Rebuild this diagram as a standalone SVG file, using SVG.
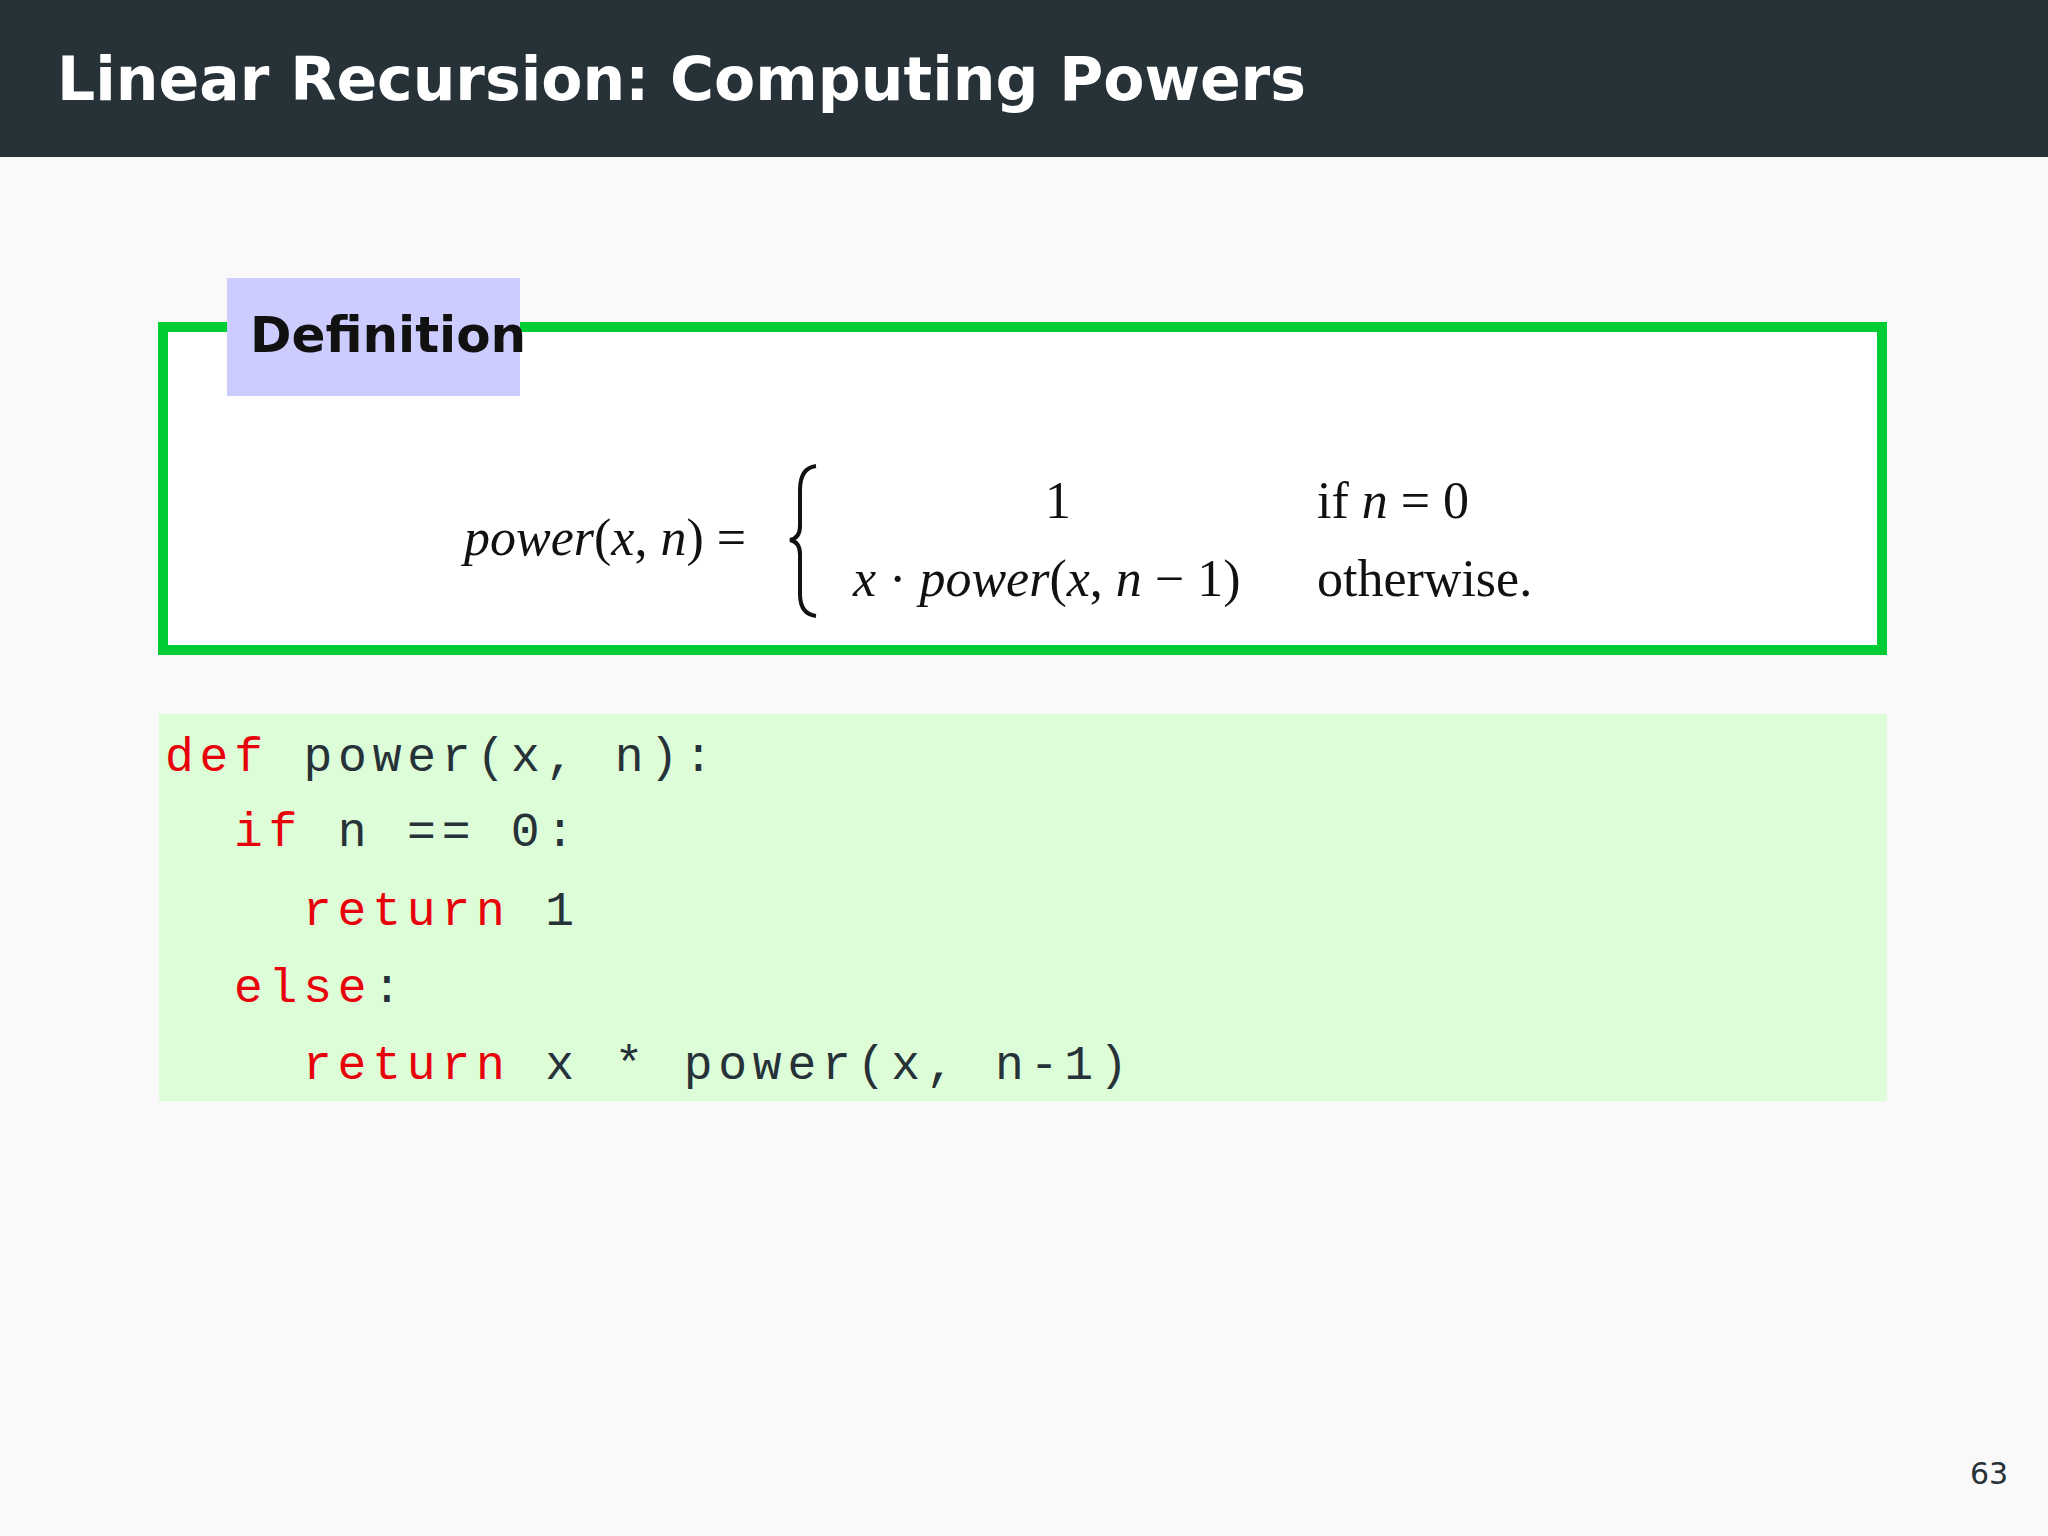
<svg xmlns="http://www.w3.org/2000/svg" width="2048" height="1536" viewBox="0 0 2048 1536">
<style>
.s{font-family:"DejaVu Sans","Liberation Sans",sans-serif}
.m{font-family:"Liberation Serif",serif;font-size:52px;fill:#111}
.i{font-style:italic}
.c{font-family:"Liberation Mono",monospace;font-size:48px;letter-spacing:5.8px;fill:#263238;white-space:pre}
.k{fill:#e8000b}
</style>
<rect width="2048" height="1536" fill="#f9f9f9"/>
<g id="header"><rect width="2048" height="157" fill="#263238"/>
<text x="57" y="100" class="s" font-size="60" font-weight="bold" fill="#fff">Linear Recursion: Computing Powers</text></g>
<g id="definition">
<rect x="163" y="327" width="1719" height="323" fill="#fff" stroke="#00cc33" stroke-width="10"/>
<rect x="227" y="278" width="293" height="118" fill="#ccccff"/>
<text x="250" y="352" class="s" font-size="50" font-weight="bold" fill="#111">Definition</text>
<text x="464" y="555" class="m"><tspan class="i">power</tspan>(<tspan class="i">x</tspan>, <tspan class="i">n</tspan>) =</text>
<path d="M816 466 Q800 468 800 490 L800 526 Q800 538 790 540 Q800 542 800 554 L800 594 Q800 614 816 616" fill="none" stroke="#111" stroke-width="4"/>
<text x="1045" y="518" class="m">1</text>
<text x="1317" y="518" class="m">if   <tspan class="i">n</tspan> = 0</text>
<text x="853" y="596" class="m"><tspan class="i">x</tspan> · <tspan class="i">power</tspan>(<tspan class="i">x</tspan>, <tspan class="i">n</tspan> − 1)</text>
<text x="1317" y="596" class="m">otherwise.</text>
</g>
<g id="code">
<rect x="159" y="714" width="1728" height="387" fill="#dcfdd8"/>
<text x="165" y="771" class="c"><tspan class="k">def</tspan> power(x, n):</text>
<text x="234" y="846" class="c"><tspan class="k">if</tspan> n == 0:</text>
<text x="303" y="925" class="c"><tspan class="k">return</tspan> 1</text>
<text x="234" y="1002" class="c"><tspan class="k">else</tspan>:</text>
<text x="303" y="1079" class="c"><tspan class="k">return</tspan> x * power(x, n-1)</text>
</g>
<text x="1970" y="1484" class="s" font-size="30" fill="#263238">63</text>
</svg>
